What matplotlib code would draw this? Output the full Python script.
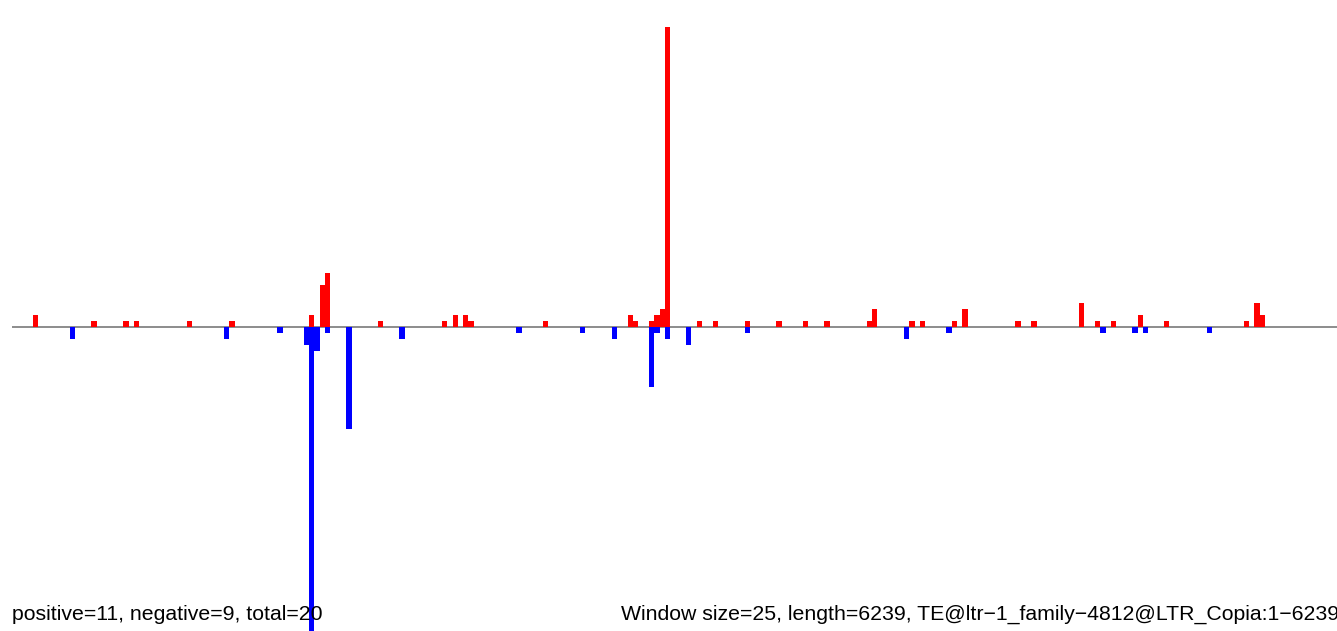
import matplotlib
matplotlib.use("Agg")
import matplotlib.pyplot as plt

window = 25
length = 6239

pos_bins = [4, 15, 21, 23, 33, 41, 56, 58, 59, 69, 81, 83, 85, 86, 100, 116, 117,
            120, 121, 122, 123, 129, 132, 138, 144, 149, 153, 161, 162, 169, 171,
            177, 179, 189, 192, 201, 204, 207, 212, 217, 232, 234, 235]
pos_vals = [2, 1, 1, 1, 1, 1, 2, 7, 9, 1, 1, 2, 2, 1, 1, 2, 1,
            1, 2, 3, 50, 1, 1, 1, 1, 1, 1, 1, 3, 1, 1,
            1, 3, 1, 1, 4, 1, 1, 2, 1, 1, 4, 2]

neg_bins = [11, 40, 50, 55, 56, 57, 59, 63, 73, 95, 107, 113, 120, 121, 123, 127,
            138, 168, 176, 205, 211, 213, 225]
neg_vals = [-2, -2, -1, -3, -55, -4, -1, -17, -2, -1, -1, -2, -10, -1, -2, -3,
            -1, -2, -1, -1, -1, -1, -1]

left_text = "positive=11, negative=9, total=20"
right_text = "Window size=25, length=6239, TE@ltr\u22121_family\u22124812@LTR_Copia:1\u22126239"

plt.rcParams['font.family'] = ['Liberation Sans', 'DejaVu Sans']

W, H = 1337, 631
fig = plt.figure(figsize=(W / 100, H / 100), dpi=100)
ax = fig.add_axes([11.75 / W, 0, 1 - 11.75 / W, 1])
ax.set_xlim(0, length)
ax.set_ylim(-(H - 326.7) / 6.0, 326.7 / 6.0)
ax.axis('off')

ax.bar([b * window for b in pos_bins], pos_vals, width=window, align='edge',
       color='#FF0000', linewidth=0, zorder=2)
ax.bar([b * window for b in neg_bins], neg_vals, width=window, align='edge',
       color='#0000FF', linewidth=0, zorder=2)
ax.axhline(0, color='#8c8c8c', lw=1.4, zorder=1)

fig.text(12 / W, 1 - 619.5 / H, left_text, fontsize=15.3, ha='left', va='baseline', color='black', zorder=0)
fig.text(621 / W, 1 - 619.5 / H, right_text, fontsize=15.3, ha='left', va='baseline', color='black', zorder=0)

fig.savefig("out.png", dpi=100)
